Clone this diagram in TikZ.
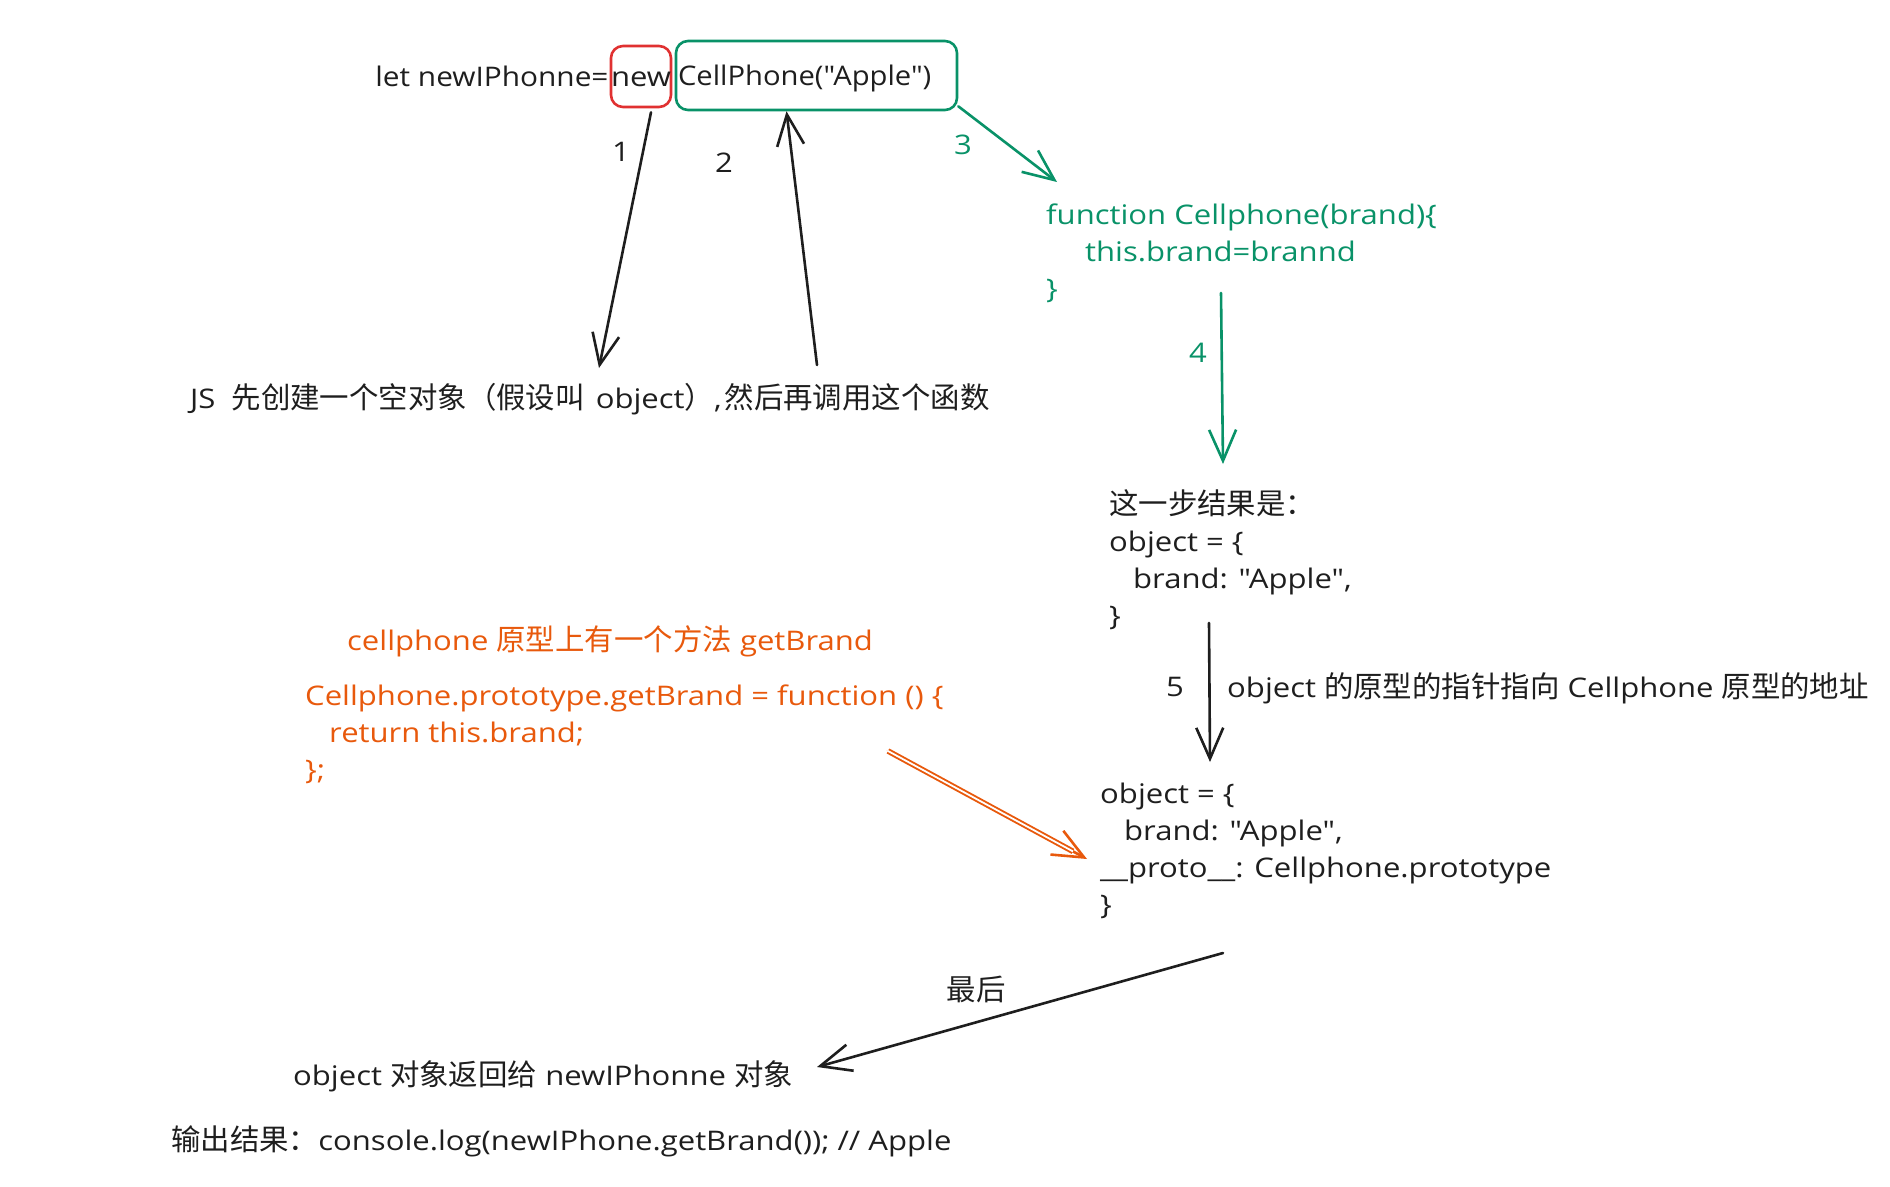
\documentclass[tikz,border=0pt]{standalone}
\usepackage{fontspec}
\usepackage{graphicx}
\setmainfont{Open Sans}[Ligatures=TeXOff, FakeStretch=1.15]
\newfontfamily\cjk{Noto Sans CJK SC}[Ligatures=TeXOff, Scale=1.09]
\usetikzlibrary{arrows.meta}
\definecolor{exblack}{HTML}{1E1E1E}
\definecolor{exred}{HTML}{E03131}
\definecolor{exgreen}{HTML}{099268}
\definecolor{exorange}{HTML}{E8590C}
\begin{document}
\begin{tikzpicture}[x=1pt,y=-1pt,
  txt/.style={inner sep=0pt, anchor=west, text=exblack, font=\fontsize{27}{37}\selectfont},
  blk/.style={txt, anchor=north west, align=left},
  lbl/.style={inner sep=0pt, font=\fontsize{27}{37}\selectfont},
  arr/.style={-{Straight Barb[length=31pt,width=27pt]}, line width=2.6pt, line cap=round, line join=round},
  hibox/.style={txt, line width=2.6pt, rounded corners=12pt, text height=22pt, text depth=3pt}]
\useasboundingbox (0,0) rectangle (1890,1186);
% top line
\node[hibox, draw=exred, anchor=center, minimum width=60pt, minimum height=61pt] (newbox) at (641,76.5) {new};
\node[hibox, draw=exgreen, anchor=center, minimum width=281pt, minimum height=69pt, inner xsep=2pt, text width=277pt, align=left] (ctorbox) at (816.5,75.5) {\scalebox{0.94}[1]{CellPhone("Apple")}};
\node[txt, anchor=east, text height=22pt, text depth=3pt] (letline) at ([xshift=-1pt]newbox.west |- newbox.center) {\scalebox{0.96}[1]{let newIPhonne=}};
% step 1/2
\node[txt] (jstext) at (190,399) {JS\hspace{8pt} {\cjk 先创建一个空对象（假设叫}\hspace{3pt} object{\cjk ）},\hspace{3pt}{\cjk 然后再调用这个函数}};
\node[lbl, text=exblack] (l1) at (621,152) {1};
\node[lbl, text=exblack] (l2) at (724,163) {2};
\draw[arr, exblack] ([xshift=10pt,yshift=-4pt]newbox.south) -- ([xshift=409pt,yshift=31pt]jstext.west);
\draw[arr, exblack] ([xshift=627pt,yshift=34pt]jstext.west) -- ([xshift=-30pt]ctorbox.south);
% step 3
\node[blk, text=exgreen] (fnblock) at (1046,204) {function Cellphone(brand)\{\\\hspace*{39pt}this.brand=brannd\\\}};
\node[lbl, text=exgreen] (l3) at (963,145) {3};
\draw[arr, exgreen] ([yshift=5pt]ctorbox.south east) -- ([xshift=11pt,yshift=22pt]fnblock.north west);
% step 4
\node[blk] (step1) at (1109,489) {{\cjk 这一步结果是：}\\object = \{\\\hspace*{24pt}brand: "Apple",\\\}};
\node[lbl, text=exgreen] (l4) at (1198,353) {4};
\draw[arr, exgreen] ([xshift=175pt,yshift=-89pt]fnblock.north west) -- ([xshift=114pt,yshift=25pt]step1.north west);
% step 5
\node[blk] (step2) at (1100,783) {object = \{\\\hspace*{24pt}brand: "Apple",\\\_\_proto\_\_: Cellphone.prototype\\\}};
\node[lbl, text=exblack] (l5) at (1175,687) {5};
\node[txt] (l5txt) at (1227,688) {object {\cjk 的原型的指针指向} Cellphone {\cjk 原型的地址}};
\draw[arr, exblack] ([xshift=100pt,yshift=-134pt]step1.north west) -- ([xshift=110pt,yshift=21pt]step2.north west);
% prototype method
\node[txt, text=exorange] (protonote) at (347,641) {cellphone {\cjk 原型上有一个方法} getBrand};
\node[blk, text=exorange] (protocode) at (305,685) {Cellphone.prototype.getBrand = function () \{\\\hspace*{24pt}return this.brand;\\\};};
\draw[arr, exorange] ([xshift=583pt,yshift=-66pt]protocode.north west) -- ([xshift=-13pt,yshift=-76pt]step2.north west);
\draw[exorange, line width=5.6pt, shorten >=16pt] ([xshift=583pt,yshift=-66pt]protocode.north west) -- ([xshift=-13pt,yshift=-76pt]step2.north west);
\draw[white, line width=1.8pt, shorten >=16pt, shorten <=-1pt] ([xshift=583pt,yshift=-66pt]protocode.north west) -- ([xshift=-13pt,yshift=-76pt]step2.north west);
% final
\node[txt] (retnode) at (293,1076) {object {\cjk 对象返回给} newIPhonne {\cjk 对象}};
\node[txt] (outnode) at (171,1141) {{\cjk 输出结果：}console.log(newIPhone.getBrand()); // Apple};
\node[lbl, text=exblack] (lfinal) at (976,989) {\cjk 最后};
\draw[arr, exblack] ([xshift=123pt,yshift=-170pt]step2.north west) -- ([xshift=524pt,yshift=9pt]retnode.west);
\end{tikzpicture}
\end{document}
